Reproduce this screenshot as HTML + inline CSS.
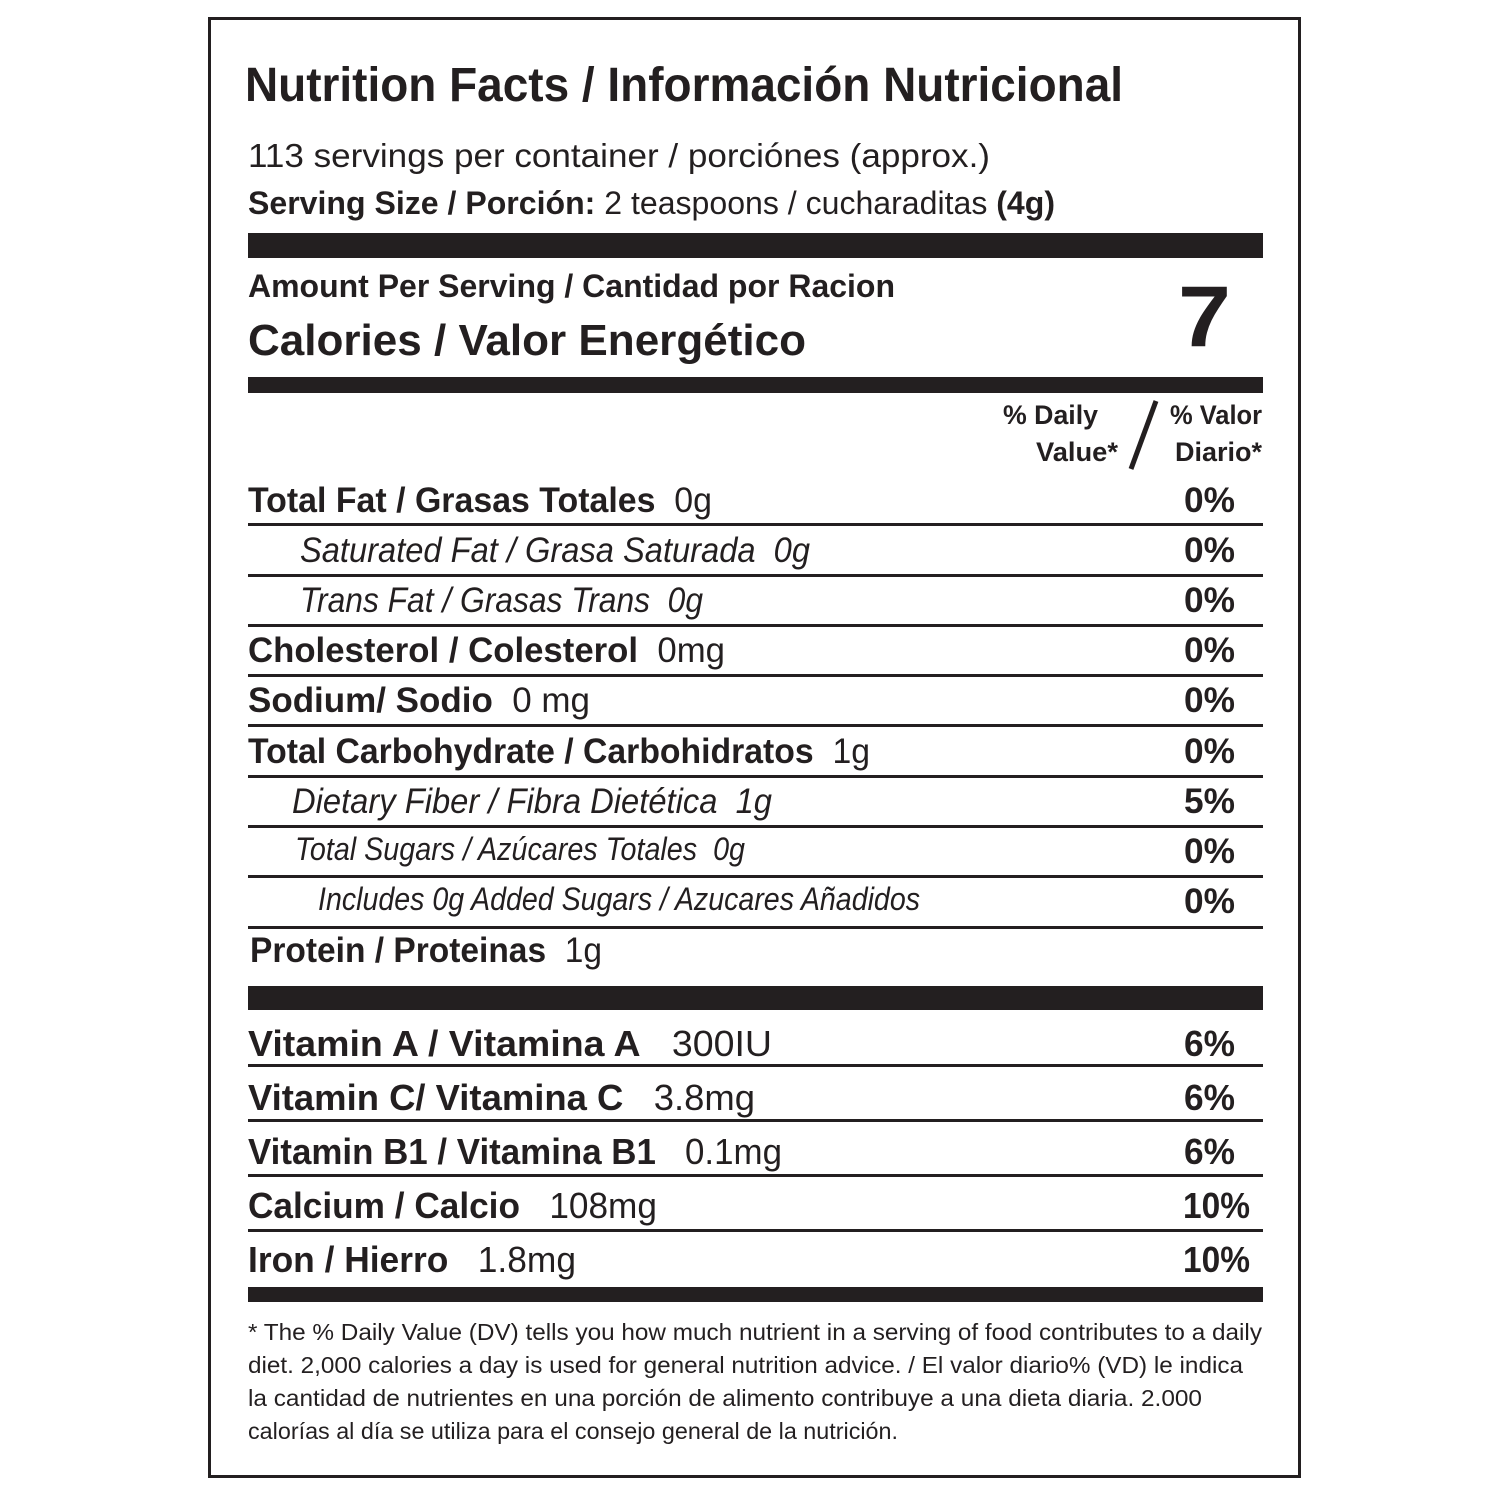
<!DOCTYPE html>
<html><head><meta charset="utf-8"><style>
html,body{margin:0;padding:0;background:#fff;}
svg{display:block;}
text{font-family:"Liberation Sans",sans-serif;fill:#231f20;}
.b{font-weight:bold;}
.i{font-style:italic;}
</style></head><body>
<svg width="1500" height="1500" viewBox="0 0 1500 1500" xmlns="http://www.w3.org/2000/svg">
<rect x="0" y="0" width="1500" height="1500" fill="#fff"/>
<rect x="209.5" y="18.5" width="1090" height="1458" fill="none" stroke="#231f20" stroke-width="3"/>

<text x="245" y="101" font-size="48" class="b" textLength="878" lengthAdjust="spacingAndGlyphs">Nutrition Facts / Información Nutricional</text>
<text x="248" y="167" font-size="33" textLength="742" lengthAdjust="spacingAndGlyphs">113 servings per container / porciónes (approx.)</text>
<text x="248" y="214" font-size="32" textLength="807" lengthAdjust="spacingAndGlyphs"><tspan class="b">Serving Size / Porción:</tspan> 2 teaspoons / cucharaditas <tspan class="b">(4g)</tspan></text>

<rect x="248" y="233" width="1015" height="25" fill="#231f20"/>
<text x="248" y="297" font-size="32" class="b" textLength="647" lengthAdjust="spacingAndGlyphs">Amount Per Serving / Cantidad por Racion</text>
<text x="248" y="355" font-size="44" class="b" textLength="558" lengthAdjust="spacingAndGlyphs">Calories / Valor Energético</text>
<text x="1178" y="346" font-size="86" class="b" textLength="53" lengthAdjust="spacingAndGlyphs">7</text>
<rect x="248" y="377" width="1015" height="16" fill="#231f20"/>

<text x="1003" y="424" font-size="27" class="b" textLength="95" lengthAdjust="spacingAndGlyphs">% Daily</text>
<text x="1036" y="461" font-size="27" class="b" textLength="82" lengthAdjust="spacingAndGlyphs">Value*</text>
<line x1="1156" y1="401" x2="1131" y2="469" stroke="#231f20" stroke-width="5"/>
<text x="1170" y="424" font-size="27" class="b" textLength="92" lengthAdjust="spacingAndGlyphs">% Valor</text>
<text x="1175" y="461" font-size="27" class="b" textLength="87" lengthAdjust="spacingAndGlyphs">Diario*</text>

<g stroke="#231f20" stroke-width="3">
<line x1="248" y1="524.5" x2="1263" y2="524.5"/>
<line x1="248" y1="575.5" x2="1263" y2="575.5"/>
<line x1="248" y1="625.5" x2="1263" y2="625.5"/>
<line x1="248" y1="675.5" x2="1263" y2="675.5"/>
<line x1="248" y1="725.5" x2="1263" y2="725.5"/>
<line x1="248" y1="776.5" x2="1263" y2="776.5"/>
<line x1="248" y1="826.5" x2="1263" y2="826.5"/>
<line x1="248" y1="876.5" x2="1263" y2="876.5"/>
<line x1="248" y1="927.5" x2="1263" y2="927.5"/>
<line x1="248" y1="1065.5" x2="1263" y2="1065.5"/>
<line x1="248" y1="1120.5" x2="1263" y2="1120.5"/>
<line x1="248" y1="1175.5" x2="1263" y2="1175.5"/>
<line x1="248" y1="1230.5" x2="1263" y2="1230.5"/>
</g>

<g font-size="35">
<text x="248" y="512" textLength="464" lengthAdjust="spacingAndGlyphs"><tspan class="b">Total Fat / Grasas Totales</tspan>&#160;&#160;0g</text>
<text x="300" y="562" class="i" textLength="510" lengthAdjust="spacingAndGlyphs">Saturated Fat / Grasa Saturada&#160;&#160;0g</text>
<text x="300" y="612" class="i" textLength="403" lengthAdjust="spacingAndGlyphs">Trans Fat / Grasas Trans&#160;&#160;0g</text>
<text x="248" y="662" textLength="477" lengthAdjust="spacingAndGlyphs"><tspan class="b">Cholesterol / Colesterol</tspan>&#160;&#160;0mg</text>
<text x="248" y="712" textLength="342" lengthAdjust="spacingAndGlyphs"><tspan class="b">Sodium/ Sodio</tspan>&#160;&#160;0 mg</text>
<text x="248" y="763" textLength="622" lengthAdjust="spacingAndGlyphs"><tspan class="b">Total Carbohydrate / Carbohidratos</tspan>&#160;&#160;1g</text>
<text x="292" y="813" class="i" textLength="480" lengthAdjust="spacingAndGlyphs">Dietary Fiber / Fibra Dietética&#160;&#160;1g</text>
<text x="295" y="860" class="i" font-size="32" textLength="450" lengthAdjust="spacingAndGlyphs">Total Sugars / Azúcares Totales&#160;&#160;0g</text>
<text x="318" y="910" class="i" font-size="32" textLength="602" lengthAdjust="spacingAndGlyphs">Includes 0g Added Sugars / Azucares Añadidos</text>
<text x="250" y="962" textLength="352" lengthAdjust="spacingAndGlyphs"><tspan class="b">Protein / Proteinas</tspan>&#160;&#160;1g</text>

<text x="1184" y="512" class="b" textLength="51" lengthAdjust="spacingAndGlyphs">0%</text>
<text x="1184" y="562" class="b" textLength="51" lengthAdjust="spacingAndGlyphs">0%</text>
<text x="1184" y="612" class="b" textLength="51" lengthAdjust="spacingAndGlyphs">0%</text>
<text x="1184" y="662" class="b" textLength="51" lengthAdjust="spacingAndGlyphs">0%</text>
<text x="1184" y="712" class="b" textLength="51" lengthAdjust="spacingAndGlyphs">0%</text>
<text x="1184" y="763" class="b" textLength="51" lengthAdjust="spacingAndGlyphs">0%</text>
<text x="1184" y="813" class="b" textLength="51" lengthAdjust="spacingAndGlyphs">5%</text>
<text x="1184" y="863" class="b" textLength="51" lengthAdjust="spacingAndGlyphs">0%</text>
<text x="1184" y="913" class="b" textLength="51" lengthAdjust="spacingAndGlyphs">0%</text>
</g>

<rect x="248" y="986" width="1015" height="24" fill="#231f20"/>

<g font-size="36">
<text x="248" y="1056" textLength="524" lengthAdjust="spacingAndGlyphs"><tspan class="b">Vitamin A / Vitamina A</tspan>&#160;&#160;&#160;300IU</text>
<text x="248" y="1110" textLength="507" lengthAdjust="spacingAndGlyphs"><tspan class="b">Vitamin C/ Vitamina C</tspan>&#160;&#160;&#160;3.8mg</text>
<text x="248" y="1164" textLength="534" lengthAdjust="spacingAndGlyphs"><tspan class="b">Vitamin B1 / Vitamina B1</tspan>&#160;&#160;&#160;0.1mg</text>
<text x="248" y="1218" textLength="409" lengthAdjust="spacingAndGlyphs"><tspan class="b">Calcium / Calcio</tspan>&#160;&#160;&#160;108mg</text>
<text x="248" y="1272" textLength="328" lengthAdjust="spacingAndGlyphs"><tspan class="b">Iron / Hierro</tspan>&#160;&#160;&#160;1.8mg</text>
<text x="1184" y="1056" class="b" textLength="51" lengthAdjust="spacingAndGlyphs">6%</text>
<text x="1184" y="1110" class="b" textLength="51" lengthAdjust="spacingAndGlyphs">6%</text>
<text x="1184" y="1164" class="b" textLength="51" lengthAdjust="spacingAndGlyphs">6%</text>
<text x="1183" y="1218" class="b" textLength="67" lengthAdjust="spacingAndGlyphs">10%</text>
<text x="1183" y="1272" class="b" textLength="67" lengthAdjust="spacingAndGlyphs">10%</text>
</g>

<rect x="248" y="1287" width="1015" height="15" fill="#231f20"/>

<g font-size="23">
<text x="248" y="1340" textLength="1014" lengthAdjust="spacingAndGlyphs">* The % Daily Value (DV) tells you how much nutrient in a serving of food contributes to a daily</text>
<text x="248" y="1373" textLength="995" lengthAdjust="spacingAndGlyphs">diet. 2,000 calories a day is used for general nutrition advice. / El valor diario% (VD) le indica</text>
<text x="248" y="1406" textLength="954" lengthAdjust="spacingAndGlyphs">la cantidad de nutrientes en una porción de alimento contribuye a una dieta diaria. 2.000</text>
<text x="248" y="1439" textLength="650" lengthAdjust="spacingAndGlyphs">calorías al día se utiliza para el consejo general de la nutrición.</text>
</g>
</svg>
</body></html>
